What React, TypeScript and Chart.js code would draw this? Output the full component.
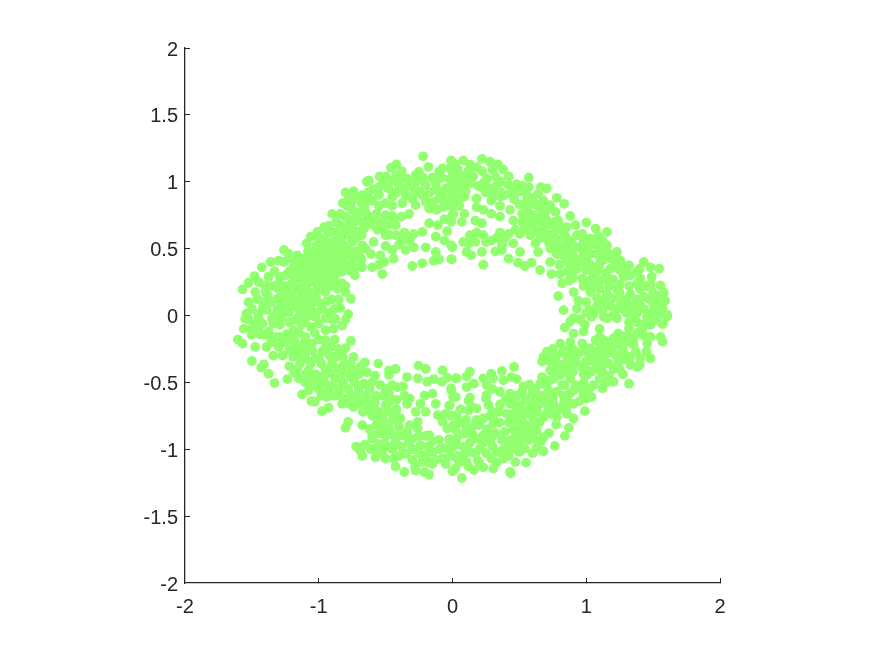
import React, { useEffect, useRef } from "react";
import { Chart, registerables } from "chart.js";

Chart.register(...registerables);

const upperLeft: number[][] = [
[-0.22,1.19],[-0.42,1.13],[-0.46,1.105],[-0.38,1.08],[-0.625,1.01],[-0.64,1.0],[-0.545,1.04],[-0.5,1.04],[-0.25,1.075],[-0.275,1.05],[-0.18,1.11],[-0.075,1.1],[-0.01,1.155],[-0.1,1.075],[0,1.075],
[-0.8,0.92],[-0.74,0.93],[-0.775,0.875],[-0.675,0.9],[-0.59,0.945],[-0.45,1.01],[-0.4,0.975],[-0.34,1.025],[-0.3,0.975],[-0.2,0.975],[-0.125,0.99],[-0.05,0.95],[0,0.9],[-0.225,0.9],[-0.35,0.9],[-0.45,0.89],[-0.55,0.9],[-0.6,0.86],
[-0.79,0.82],[-0.66,0.81],[-0.75,0.79],[-0.9,0.76],[-0.84,0.76],[-0.625,0.74],[-0.7,0.71],[-0.5,0.75],[-0.45,0.745],[-0.325,0.76],[-0.375,0.84],[-0.275,0.825],[-0.175,0.8],[-0.1,0.875],[-0.04,0.86],[0,0.75],[-0.06,0.72],[-0.175,0.69],[-0.11,0.675],
[-0.775,0.71],[-0.84,0.675],[-0.925,0.67],[-1.01,0.625],[-1.06,0.59],[-1.09,0.54],[-0.96,0.57],[-0.89,0.555],[-0.825,0.6],[-0.75,0.55],[-0.66,0.65],[-0.59,0.675],[-0.525,0.65],[-0.475,0.605],[-0.425,0.675],[-0.36,0.62],[-0.29,0.61],[-0.225,0.625],[-0.125,0.59],[-0.04,0.63],[-0.06,0.56],
[-0.59,0.55],[-0.4,0.53],[-0.45,0.49],[-0.35,0.49],[-0.29,0.51],[-0.2,0.51],[-0.125,0.475],[0,0.51],[-0.225,0.39],[-0.14,0.41],[-0.1,0.42],[-0.005,0.42],[-0.3,0.37],[-0.51,0.4],[-0.44,0.425],[-0.525,0.31],[-0.6,0.36],[-0.675,0.36],[-0.73,0.3],
[-0.61,0.46],[-0.7,0.45],[-0.775,0.475],[-0.85,0.45],[-0.95,0.45],[-1.025,0.475],[-1.05,0.4],[-1.125,0.425],[-0.99,0.375],[-1.26,0.49],[-1.225,0.46],[-1.16,0.45],[-1.3,0.41],[-1.36,0.4],[-1.425,0.36],[-1.19,0.36],[-1.21,0.31],[-1.29,0.29],[-1.1,0.325],[-1.16,0.275],
[-0.9,0.3],[-0.94,0.26],[-0.825,0.24],[-1.0,0.29],[-1.375,0.29],[-1.48,0.295],[-1.525,0.245],[-1.57,0.195],[-1.45,0.25],[-1.4,0.225],[-1.4,0.175],[-1.475,0.175],[-1.3,0.2],[-1.31,0.125],[-1.225,0.175],[-1.125,0.21],[-1.075,0.175],[-1.01,0.2],[-0.95,0.175],[-0.86,0.2],[-0.8,0.175],[-0.76,0.125],
[-0.94,0.105],[-1.175,0.11],[-1.26,0.085],[-1.1,0.075],[-1.04,0.1],[-1.525,0.1],[-1.46,0.125],[-0.88,0.05],[-0.84,0.055],[-0.78,0.01],[-0.975,0.05],[-1.14,0.01],[-1.225,0.025],[-1.39,0.04],[-1.45,0.01],[-1.54,0.015],[-1.325,0],[-1.55,-0.025],[-1.05,0],[-0.875,-0.025],
[-0.825,0.4],[-0.9,0.375],[-0.75,0.4],[-0.675,0.525],[-0.825,0.525],[-0.975,0.525],[-1.075,0.45],[-1.025,0.3],[-0.7,0.625],[-0.75,0.675],
];

const upperLeftDense: number[][] = [
[-1.08,0.48],[-1.02,0.52],[-0.98,0.43],[-0.93,0.49],[-0.88,0.42],[-0.86,0.5],[-0.8,0.45],[-0.78,0.52],[-0.72,0.48],[-0.68,0.42],[-0.65,0.5],[-1.04,0.44],[-0.92,0.4],[-0.85,0.36],[-0.78,0.37],[-0.72,0.36],[-0.96,0.38],[-0.83,0.58],[-0.77,0.6],[-0.72,0.58],[-0.88,0.62],[-0.8,0.65],[-0.73,0.63],[-0.68,0.6],[-0.67,0.7],[-0.7,0.77],[-0.65,0.77],[-0.73,0.73],[-0.62,0.7],[-0.68,0.84],
[-1.22,0.33],[-1.17,0.32],[-1.13,0.28],[-1.07,0.3],[-1.03,0.25],[-1.08,0.24],[-1.2,0.24],[-1.25,0.22],[-1.16,0.2],[-1.2,0.14],[-1.13,0.16],[-1.08,0.12],[-1.02,0.14],[-0.97,0.22],[-0.9,0.22],[-1.28,0.15],[-1.16,0.06],[-1.06,0.05],[-1.2,0.07],[-1.31,0.05],[-1.36,0.1],[-1.42,0.1],[-1.5,0.05],[-1.42,0.05],[-1.28,0.02],[-1.02,0.02],[-0.92,0.02],[-1.1,0.02],[-0.95,0.33],[-0.86,0.32],[-1.38,0.15],[-1.35,0.22],[-1.33,0.33],
[-0.33,0.97],[-0.27,1.0],[-0.22,1.03],[-0.15,1.03],[-0.08,1.03],[-0.02,1.02],[-0.25,0.93],[-0.17,0.92],[-0.12,0.94],[-0.07,0.92],[-0.3,0.87],[-0.2,0.85],[-0.14,0.85],[-0.02,0.82],[-0.42,0.92],[-0.38,0.94],[-0.48,0.95],[-0.42,1.05],[-0.38,1.03],[-0.28,0.92],[-0.5,0.84],[-0.55,0.82],[-0.45,0.82],[-0.62,0.86],[-0.57,0.76],[-0.53,0.7],[-0.48,0.68],[-0.38,0.74],[-0.07,0.81],[-0.12,0.79],
[-1.0,0.58],[-0.93,0.62],[-0.87,0.58],[-0.92,0.52],[-1.0,0.48],[-0.9,0.46],[-0.82,0.47],[-0.74,0.44],[-0.76,0.33],[-0.82,0.33],[-0.9,0.34],[-1.0,0.34],[-1.1,0.38],[-1.15,0.4],[-1.2,0.42],[-1.13,0.35],[-1.06,0.35],[-1.26,0.4],[-1.25,0.3],[-1.3,0.24],[-1.24,0.12],[-1.13,0.1],[-0.98,0.09],[-0.9,0.12],[-0.85,0.12],[-1.0,0.28],[-0.88,0.26],[-0.8,0.22],
[-0.96,0.66],[-0.87,0.7],[-0.8,0.74],[-0.82,0.84],[-0.76,0.84],[-0.72,0.88],[-0.63,0.92],[-0.55,0.96],[-0.52,1.0],[-0.58,0.7],[-0.56,0.64],[-0.44,0.71],[-0.5,0.6],[-0.42,0.6],[-0.37,0.56],[-0.32,0.56],[-0.5,0.52],[-0.54,0.45],[-0.55,0.38],
];

const upperRight: number[][] = [
[0.22,1.17],[0.28,1.15],[0.34,1.13],[0.38,1.09],[0.08,1.16],[0.13,1.13],[-0.01,1.16],[0.04,1.09],[-0.02,1.1],[0.42,1.04],[0.57,1.03],[0.155,1.04],[0.105,1.025],[0.255,1.025],[0.32,1.04],[0.03,1.0],[0.19,0.97],[0.28,0.95],[0.42,0.975],[0.57,0.96],[0.49,0.925],[0.64,0.91],[0.705,0.95],[0.355,0.925],[0.29,0.86],[0.39,0.9],[0.78,0.88],[0.835,0.835],[0.555,0.85],[0.18,0.875],[0.09,0.89],
[0.355,0.82],[0.02,0.825],[0.18,0.81],[0.23,0.79],[0.73,0.825],[0.77,0.775],[0.43,0.79],[0.29,0.76],[0.355,0.74],[0.09,0.76],[0.005,0.76],[0.88,0.745],[0.52,0.76],[0.605,0.75],[0.455,0.71],[0.07,0.7],[0.17,0.71],[0.22,0.69],[0.79,0.71],[0.59,0.675],[0.68,0.69],[0.855,0.66],[0.92,0.675],[1.0,0.695],[1.07,0.65],[1.155,0.625],[1.09,0.59],[0.97,0.61],
[0.13,0.6],[0.23,0.6],[0.355,0.62],[0.42,0.61],[0.505,0.61],[0.58,0.6],[0.705,0.61],[0.88,0.56],[1.03,0.575],[0.08,0.55],[-0.01,0.525],[0.17,0.55],[0.29,0.56],[0.37,0.525],[0.455,0.54],[0.62,0.54],[0.805,0.51],[0.73,0.5],[0.94,0.51],[1.08,0.525],[1.155,0.525],[1.23,0.475],[0.105,0.475],[0.14,0.45],[0.22,0.475],[0.32,0.48],[0.37,0.49],[0.505,0.475],[0.64,0.475],[0.83,0.45],[1.03,0.46],
[-0.01,0.42],[0.23,0.38],[0.42,0.425],[0.49,0.395],[0.54,0.37],[0.59,0.395],[0.655,0.34],[0.73,0.4],[0.74,0.31],[0.88,0.375],[0.97,0.4],[1.105,0.425],[1.255,0.41],[1.32,0.375],[1.43,0.4],[1.545,0.35],[1.48,0.36],[1.49,0.29],[1.18,0.35],[1.055,0.31],[0.805,0.31],[0.82,0.24],[0.87,0.26],[0.97,0.275],[1.14,0.275],[1.28,0.29],[1.405,0.275],[1.555,0.225],[1.58,0.17],[1.38,0.24],
[0.79,0.145],[0.905,0.175],[0.94,0.11],[1.03,0.175],[1.155,0.16],[1.23,0.2],[1.33,0.16],[1.47,0.125],[1.59,0.11],[1.525,0.1],[0.83,0.04],[0.93,0.05],[1.02,0.04],[1.055,0.01],[1.13,-0.01],[1.23,0.05],[1.305,0.075],[1.405,0.075],[1.505,0.04],[1.605,0.005],[1.54,0],[1.355,0],[0.905,-0.02],[1.455,-0.01],
];

const upperRightDense: number[][] = [
[0.03,1.05],[0,1.03],[0.04,0.95],[-0.01,0.97],[0.01,0.87],[0.05,0.82],[-0.01,0.7],[0.23,0.95],[0.25,0.92],[0.33,0.97],[0.36,0.89],[0.32,0.9],[0.44,0.92],[0.52,0.97],[0.55,0.91],[0.6,0.88],[0.66,0.96],[0.1,0.93],[0.06,0.88],
[0.52,0.7],[0.56,0.73],[0.62,0.7],[0.66,0.74],[0.7,0.72],[0.74,0.68],[0.78,0.64],[0.63,0.63],[0.68,0.65],[0.74,0.6],[0.54,0.65],[0.47,0.64],[0.78,0.57],[0.72,0.55],[0.66,0.58],[0.39,0.58],[0.33,0.58],[0.25,0.55],[0.12,0.54],[0.18,0.62],[0.56,0.79],[0.7,0.78],
[0.78,0.46],[0.85,0.5],[0.9,0.46],[0.98,0.47],[1.0,0.42],[0.93,0.42],[0.86,0.41],[0.8,0.38],[0.93,0.35],[1.0,0.34],[1.03,0.38],[1.1,0.38],[1.08,0.33],[1.14,0.42],[1.17,0.46],[1.12,0.48],[1.23,0.36],[1.2,0.42],[1.25,0.34],[1.15,0.32],[1.1,0.26],[1.03,0.26],[1.2,0.27],[1.25,0.23],[0.9,0.33],[0.98,0.22],[1.05,0.22],[1.1,0.2],[1.17,0.22],[1.33,0.3],[1.38,0.33],[1.32,0.22],
[1.08,0.13],[1.13,0.09],[1.2,0.13],[1.26,0.1],[1.33,0.08],[1.38,0.12],[1.43,0.14],[1.5,0.17],[1.43,0.05],[1.5,0.08],[1.55,0.15],[1.57,0.05],[1.3,0.02],[1.2,0],[1.47,0.01],[1.38,0.02],[1.12,0.04],[1.0,0.1],
[0.02,1.13],[0.06,1.05],[0.12,1.08],[0.18,1.11],[0.22,1.08],[0.3,1.09],[0.36,1.0],[0.24,1.0],[0.14,0.99],[0.08,0.98],[0.48,0.98],[0.46,0.87],[0.5,0.83],[0.62,0.83],[0.68,0.86],[0.66,0.8],[0.76,0.7],[0.82,0.66],[0.84,0.6],[0.93,0.6],[0.98,0.55],[1.02,0.52],[0.9,0.53],[1.12,0.56],[0.78,0.52],[0.85,0.55],[1.08,0.46],
[0.86,0.33],[0.9,0.28],[1.27,0.38],[1.3,0.33],[1.4,0.35],[1.4,0.2],[1.45,0.22],[1.3,0.12],[1.25,0.17],[1.15,0.13],[1.48,0.23],[1.0,0.02],[1.08,0.07],[1.18,0.07],[1.28,0.05],[1.36,0.05],
];

const lowerLeft: number[][] = [
[-1.605,-0.18],[-1.57,-0.21],[-1.56,-0.1],[-1.525,-0.03],[-1.45,-0.02],[-1.35,-0.02],[-1.275,-0.01],[-1.175,-0.03],[-1.1,-0.03],[-1.025,-0.01],[-0.95,-0.02],[-0.8,-0.03],[-0.825,-0.075],[-0.89,-0.1],[-0.95,-0.11],[-1.06,-0.085],[-1.19,-0.11],[-1.29,-0.07],[-1.375,-0.12],[-1.5,-0.145],[-1.41,-0.145],[-1.29,-0.16],[-1.475,-0.235],[-1.39,-0.235],[-1.3,-0.235],[-1.34,-0.3],[-1.19,-0.17],[-1.11,-0.21],[-1.05,-0.21],[-0.95,-0.185],[-0.91,-0.235],[-0.76,-0.19],[-0.8,-0.245],[-0.975,-0.27],[-1.125,-0.245],
[-1.5,-0.34],[-1.41,-0.365],[-1.43,-0.39],[-1.375,-0.435],[-1.33,-0.505],[-1.235,-0.475],[-1.19,-0.31],[-1.1,-0.32],[-1.025,-0.32],[-0.875,-0.31],[-0.74,-0.31],[-0.655,-0.35],[-0.69,-0.385],[-0.555,-0.36],[-0.81,-0.37],[-0.95,-0.4],[-1.075,-0.41],[-1.16,-0.4],[-0.64,-0.425],[-0.475,-0.41],[-0.425,-0.4],[-0.475,-0.445],[-0.34,-0.46],[-0.255,-0.375],[-0.2,-0.4],[-0.26,-0.47],[-0.19,-0.495],[-0.14,-0.475],[-0.075,-0.41],[-0.04,-0.465],[-0.08,-0.495],[0.025,-0.47],[-0.01,-0.545],[0.025,-0.61],
[-1.075,-0.47],[-1.0,-0.47],[-0.875,-0.47],[-0.76,-0.46],[-0.66,-0.51],[-0.41,-0.535],[-0.54,-0.52],[-1.125,-0.59],[-1.075,-0.56],[-1.055,-0.64],[-1.03,-0.645],[-0.94,-0.61],[-0.85,-0.57],[-0.825,-0.66],[-0.74,-0.685],[-0.76,-0.6],[-0.65,-0.6],[-0.575,-0.6],[-0.475,-0.585],[-0.36,-0.6],[-0.34,-0.66],[-0.21,-0.6],[-0.15,-0.585],[-0.24,-0.66],[-0.2,-0.72],[-0.125,-0.66],[-0.025,-0.675],
[-0.925,-0.69],[-0.975,-0.715],[-0.67,-0.72],[-0.59,-0.695],[-0.5,-0.67],[-0.425,-0.72],[-0.275,-0.72],[-0.11,-0.745],[-0.05,-0.735],[-0.075,-0.795],[-0.04,-0.845],[-0.78,-0.795],[-0.8,-0.84],[-0.675,-0.82],[-0.525,-0.77],[-0.39,-0.77],[-0.26,-0.795],[-0.6,-0.895],[-0.475,-0.845],[-0.4,-0.835],[-0.34,-0.87],[-0.26,-0.845],[-0.175,-0.895],[-0.15,-0.94],[-0.025,-0.925],[-0.06,-0.99],[0.025,-0.945],
[-0.51,-0.96],[-0.425,-0.945],[-0.325,-0.945],[-0.24,-0.97],[-0.72,-0.98],[-0.655,-0.965],[-0.61,-1.0],[-0.69,-1.01],[-0.675,-1.05],[-0.575,-1.06],[-0.525,-1.025],[-0.44,-1.07],[-0.425,-1.13],[-0.35,-1.035],[-0.2,-1.045],[-0.075,-1.07],[-0.15,-1.11],[-0.05,-1.11],[-0.36,-1.17],[-0.275,-1.16],[-0.21,-1.17],[-0.175,-1.19],[0,-1.165],[0.025,-1.06],[-0.225,-1.095],
];

const lowerLeftDense: number[][] = [
[-1.48,-0.07],[-1.42,-0.06],[-1.34,-0.06],[-1.22,-0.05],[-1.13,-0.07],[-1.0,-0.06],[-0.9,-0.03],[-1.45,-0.1],[-1.33,-0.16],[-1.24,-0.14],[-1.15,-0.13],[-1.03,-0.13],[-1.0,-0.18],[-1.1,-0.16],[-1.35,-0.2],[-1.22,-0.26],[-1.18,-0.24],[-1.15,-0.3],[-1.05,-0.26],[-1.0,-0.32],[-0.92,-0.3],[-0.85,-0.25],[-0.82,-0.31],
[-1.14,-0.36],[-1.06,-0.36],[-0.98,-0.36],[-0.9,-0.36],[-0.85,-0.4],[-0.76,-0.36],[-0.75,-0.41],[-1.1,-0.44],[-1.02,-0.44],[-0.96,-0.45],[-0.91,-0.43],[-0.82,-0.43],[-0.7,-0.44],[-1.15,-0.47],[-1.03,-0.5],[-0.96,-0.5],[-0.9,-0.52],[-0.82,-0.5],[-0.73,-0.5],[-0.7,-0.55],[-1.0,-0.55],[-0.93,-0.56],[-0.85,-0.55],[-0.78,-0.55],[-0.72,-0.6],[-0.68,-0.65],[-0.62,-0.55],[-0.58,-0.65],[-0.52,-0.6],[-0.5,-0.55],
[-0.6,-0.75],[-0.55,-0.72],[-0.48,-0.72],[-0.5,-0.8],[-0.44,-0.78],[-0.57,-0.82],[-0.62,-0.85],[-0.55,-0.88],[-0.5,-0.9],[-0.45,-0.89],[-0.4,-0.9],[-0.35,-0.9],[-0.3,-0.92],[-0.55,-0.96],[-0.45,-1.0],[-0.38,-0.98],[-0.3,-1.0],[-0.25,-1.03],[-0.15,-1.02],[-0.4,-1.05],[-0.2,-0.9],[-0.25,-0.9],[-0.13,-1.08],[-0.6,-0.92],[-0.48,-0.65],[-0.42,-0.63],[-0.37,-0.53],
[-1.5,-0.1],[-1.44,-0.14],[-1.36,-0.17],[-1.25,-0.2],[-1.18,-0.2],[-1.08,-0.26],[-1.12,-0.28],[-0.95,-0.24],[-0.88,-0.18],[-1.27,-0.3],[-1.22,-0.38],[-1.18,-0.43],[-1.1,-0.5],[-1.06,-0.53],[-0.98,-0.6],[-0.88,-0.6],[-0.82,-0.62],[-0.77,-0.66],[-0.72,-0.66],[-0.62,-0.64],[-0.6,-0.5],[-0.58,-0.45],[-0.63,-0.7],[-0.52,-0.85],[-0.56,-0.78],[-0.48,-0.98],[-0.58,-1.0],[-0.5,-1.07],[-0.3,-1.08],[-0.32,-0.82],[-0.42,-0.7],[-0.28,-1.13],[-0.18,-1.1],[-0.1,-1.0],[-0.1,-0.93],[-0.18,-0.98],[-0.02,-1.05],[-0.32,-0.62],[-0.45,-0.52],
];

const lowerRight: number[][] = [
[0.84,-0.09],[0.905,-0.135],[0.88,-0.045],[0.955,-0.03],[0.99,-0.07],[0.98,-0.12],[1.04,-0.01],[1.1,-0.1],[1.155,-0.02],[1.23,-0.02],[1.34,-0.02],[1.455,-0.01],[1.605,-0.01],[1.57,-0.065],[1.32,-0.095],[1.42,-0.095],[1.48,-0.07],[1.555,-0.16],[1.57,-0.195],[1.24,-0.135],[1.355,-0.17],[1.48,-0.16],[1.205,-0.17],[1.13,-0.185],[1.07,-0.185],[0.805,-0.21],[0.88,-0.2],[0.97,-0.21],[1.03,-0.245],[1.105,-0.245],[1.18,-0.245],[1.27,-0.245],[1.355,-0.22],[1.455,-0.21],
[0.705,-0.27],[0.68,-0.31],[0.67,-0.345],[0.84,-0.26],[0.77,-0.31],[0.93,-0.295],[1.03,-0.32],[1.13,-0.32],[1.22,-0.295],[1.33,-0.31],[1.405,-0.32],[1.48,-0.32],[1.38,-0.385],[0.855,-0.345],[0.73,-0.41],[0.805,-0.37],[0.97,-0.385],[1.08,-0.4],[1.205,-0.4],[1.275,-0.44],[1.32,-0.51],
[0.46,-0.385],[0.37,-0.415],[0.13,-0.42],[0.105,-0.455],[0.03,-0.47],[0.29,-0.435],[0.23,-0.47],[0.255,-0.52],[0.305,-0.47],[0.38,-0.485],[0.44,-0.46],[0.48,-0.475],[0.105,-0.535],[0.16,-0.51],[0.575,-0.515],[0.67,-0.46],[0.73,-0.485],[0.805,-0.445],[0.88,-0.47],[1.005,-0.445],[1.12,-0.545],[1.205,-0.495],[1.055,-0.52],[0.655,-0.51],[0.84,-0.52],
[-0.01,-0.56],[0.005,-0.61],[0.13,-0.615],[0.12,-0.635],[0.255,-0.595],[0.355,-0.57],[0.43,-0.585],[0.52,-0.57],[0.59,-0.595],[0.69,-0.595],[0.78,-0.57],[0.905,-0.56],[0.98,-0.585],[1.04,-0.61],[0.905,-0.66],[-0.02,-0.67],[0.27,-0.67],[0.355,-0.665],[0.43,-0.66],[0.505,-0.67],[0.655,-0.66],[0.755,-0.66],[0.83,-0.66],[0.99,-0.715],
[0.12,-0.71],[0.18,-0.695],[0.03,-0.745],[0.23,-0.77],[0.305,-0.76],[0.405,-0.735],[0.54,-0.735],[0.705,-0.735],[0.855,-0.735],[0.78,-0.76],[0.905,-0.77],[0.775,-0.815],[0.87,-0.84],[0.84,-0.9],[0.005,-0.82],[0.105,-0.835],[0.17,-0.81],[0.305,-0.81],[0.39,-0.87],[0.505,-0.81],[0.605,-0.81],[0.68,-0.91],[0.08,-0.885],[0.155,-0.895],[0.23,-0.895],[0.03,-0.92],[0.28,-0.935],[0.43,-0.935],[0.52,-0.92],[0.605,-0.92],
[0.765,-0.975],[0.68,-1.015],[0.63,-0.985],[0.04,-1.05],[0.13,-1.02],[0.205,-0.995],[0.33,-1.02],[0.455,-0.995],[0.54,-0.995],[0.105,-1.095],[0.19,-1.085],[0.29,-1.07],[0.38,-1.07],[0.47,-1.095],[0.55,-1.1],[0.02,-1.145],[0.16,-1.155],[0.23,-1.135],[0.305,-1.145],[0.07,-1.215],[0.43,-1.17],[0.435,-1.18],[-0.01,-0.995],[0.58,-0.87],
];

const lowerRightDense: number[][] = [
[0.75,-0.25],[0.9,-0.25],[0.96,-0.27],[1.08,-0.28],[1.16,-0.28],[1.28,-0.28],[0.72,-0.34],[0.78,-0.37],[0.88,-0.33],[0.93,-0.36],[1.0,-0.34],[1.06,-0.35],[1.17,-0.36],[1.24,-0.34],[0.77,-0.43],[0.9,-0.42],[0.98,-0.44],[1.04,-0.42],[1.12,-0.42],[1.17,-0.45],[0.85,-0.42],[1.1,-0.47],[1.15,-0.5],[0.98,-0.5],
[0.48,-0.6],[0.55,-0.63],[0.6,-0.66],[0.65,-0.6],[0.72,-0.56],[0.75,-0.62],[0.83,-0.6],[0.88,-0.58],[0.95,-0.64],[1.0,-0.62],[0.62,-0.55],[0.48,-0.68],[0.57,-0.7],[0.63,-0.72],[0.46,-0.73],[0.8,-0.7],[0.72,-0.7],[0.85,-0.69],[0.35,-0.72],[0.3,-0.72],
[1.32,-0.05],[1.38,-0.05],[1.45,-0.05],[1.52,-0.03],[1.38,-0.13],[1.43,-0.15],[1.3,-0.15],[1.3,-0.2],[1.37,-0.27],[1.45,-0.27],[1.33,-0.37],[1.4,-0.37],
[0.02,-0.85],[0.05,-0.8],[0.1,-0.78],[0.14,-0.85],[0.2,-0.82],[0.26,-0.85],[0.32,-0.88],[0.37,-0.93],[0.45,-0.85],[0.5,-0.87],[0.55,-0.82],[0.57,-0.93],[0.63,-0.86],[0.65,-0.8],[0.6,-0.76],[0.52,-0.76],[0.45,-0.78],[0.35,-0.8],[0.13,-0.95],[0.08,-0.98],[0.23,-0.95],[0.3,-0.98],[0.38,-1.0],[0.5,-1.02],[0.6,-1.03],[0.42,-1.05],[0.25,-1.03],[0.02,-0.97],[-0.01,-0.75],[0.06,-0.7],[0.14,-0.68],[0.08,-1.05],[0.33,-1.1],[0.12,-1.13],[0.5,-0.97],
[0.74,-0.3],[0.82,-0.28],[0.86,-0.3],[1.0,-0.27],[1.1,-0.3],[1.2,-0.23],[1.25,-0.2],[1.15,-0.2],[1.1,-0.16],[1.28,-0.33],[1.25,-0.4],[1.12,-0.37],[1.0,-0.4],[0.9,-0.37],[0.84,-0.38],[0.76,-0.47],[0.7,-0.52],[0.6,-0.55],[0.53,-0.53],[0.82,-0.52],[0.92,-0.52],[0.97,-0.55],[1.02,-0.55],[0.86,-0.62],[0.7,-0.65],[0.58,-0.62],[0.45,-0.65],[0.4,-0.62],[0.25,-0.62],[0.3,-0.55],[0.5,-0.7],[0.68,-0.76],[0.75,-0.74],[0.42,-0.8],[0.28,-0.75],[0.18,-0.78],[0.1,-0.88],[0.18,-0.92],[0.3,-0.9],[0.46,-0.92],[0.55,-0.88],[0.66,-0.94],[0.72,-0.88],[0.42,-0.98],[0.17,-1.03],[0.2,-1.1],[0.05,-1.1],
];

const xTickValues = [-2, -1, 0, 1, 2];
const yTickValues = [-2, -1.5, -1, -0.5, 0, 0.5, 1, 1.5, 2];

const AXIS_COLOR = "#262626";
const POINT_COLOR = "#91FF6E";
const FONT_FAMILY = "'Liberation Sans', Arial, sans-serif";

const tickColor = (ctx: any) => (ctx.tick && ctx.tick.value === -2 ? "rgba(0,0,0,0)" : AXIS_COLOR);

export default function App() {
  const ref = useRef<HTMLCanvasElement | null>(null);

  useEffect(() => {
    const points = [
      ...upperLeft, ...upperLeftDense,
      ...upperRight, ...upperRightDense,
      ...lowerLeft, ...lowerLeftDense,
      ...lowerRight, ...lowerRightDense,
    ].map(([x, y]) => ({ x, y }));
    const chart = new Chart(ref.current!, {
      type: "scatter",
      data: {
        datasets: [
          {
            data: points,
            backgroundColor: POINT_COLOR,
            borderWidth: 0,
            pointRadius: 4.9,
          },
        ],
      },
      options: {
        responsive: false,
        animation: false,
        events: [],
        layout: { padding: { top: 48, right: 155, left: 0, bottom: 0 } },
        plugins: { legend: { display: false }, tooltip: { enabled: false } },
        scales: {
          x: {
            type: "linear",
            min: -2,
            max: 2,
            afterBuildTicks: (s: any) => {
              s.ticks = xTickValues.map((value) => ({ value }));
            },
            afterFit: (s: any) => {
              s.height = 73;
            },
            border: { color: AXIS_COLOR, width: 1.3 },
            grid: { drawOnChartArea: false, tickColor, tickLength: -5, tickWidth: 1 },
            ticks: { color: AXIS_COLOR, font: { family: FONT_FAMILY, size: 20 }, padding: 17, maxRotation: 0, autoSkip: false, callback: (v: any) => String(v) },
          },
          y: {
            type: "linear",
            min: -2,
            max: 2,
            afterBuildTicks: (s: any) => {
              s.ticks = yTickValues.map((value) => ({ value }));
            },
            afterFit: (s: any) => {
              s.width = 185;
            },
            border: { color: AXIS_COLOR, width: 1.3 },
            grid: { drawOnChartArea: false, tickColor, tickLength: -5, tickWidth: 1 },
            ticks: { color: AXIS_COLOR, font: { family: FONT_FAMILY, size: 20, lineHeight: 0.2 }, padding: 12, autoSkip: false, callback: (v: any) => ["", String(v)] },
          },
        },
      },
    } as any);
    return () => chart.destroy();
  }, []);

  return (
    <div style={{ position: "absolute", left: 0, top: 0, width: 875, height: 656, background: "#fff" }}>
      <canvas ref={ref} width={875} height={656} style={{ display: "block" }} />
    </div>
  );
}
